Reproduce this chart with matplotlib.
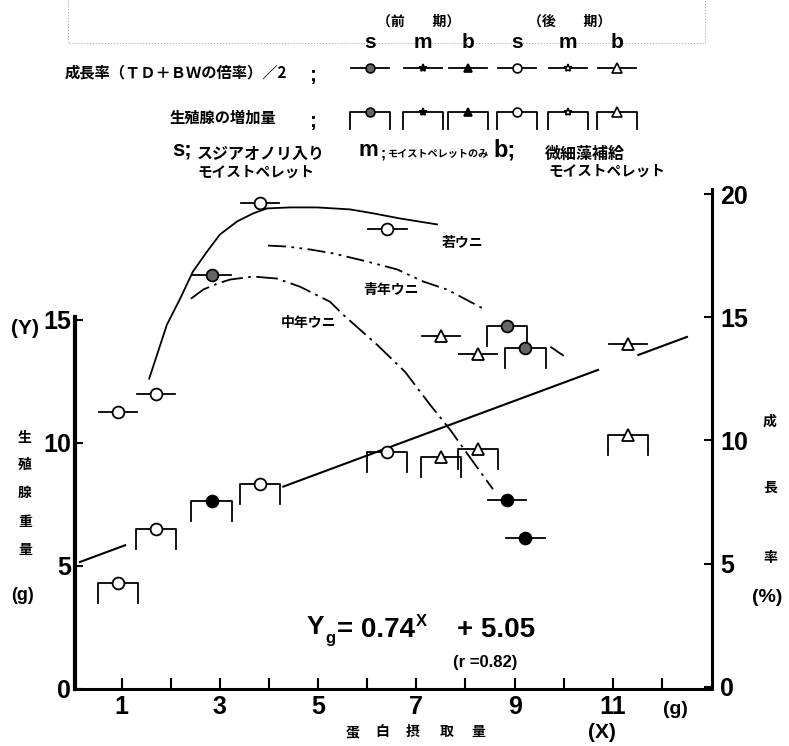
import numpy as np
import matplotlib.pyplot as plt

plt.rcParams['font.family'] = ['Liberation Sans', 'Noto Sans CJK JP', 'DejaVu Sans']
JP = ['Noto Sans CJK JP', 'DejaVu Sans']

W, H = 789, 746

# protein intake (X, g) of each lot
intake = [0.92, 1.70, 2.83, 3.82, 6.41, 7.50, 8.26, 8.84, 9.22, 11.31]
# gonad weight increase (Y, g) -- left axis
gonad_g = [4.31, 6.50, 7.64, 8.33, 9.63, 9.43, 9.76, 14.76, 13.86, 10.33]
gonad_kind = ['o', 'o', 'f', 'o', 'o', 't', 't', 'd', 'd', 't']
# growth rate (%) -- right axis
growth_pct = [11.14, 11.88, 16.73, 19.63, 18.61, 14.24, 13.51, 7.59, 6.04, 13.92]
growth_kind = ['o', 'o', 'd', 'o', 'o', 't', 't', 'f', 'f', 't']

# regression Yg = 0.74 X + 5.05 and the parts of it that are drawn
slope, intercept = 0.74, 5.05
reg_spans = [(0.15, 1.07), (4.29, 10.7), (11.52, 12.51)]

# hand drawn trend curves (growth rate, %)
young_x = [1.56, 1.72, 1.92, 2.19, 2.45, 2.74, 3.00, 3.35, 3.68, 3.96, 4.43, 4.98, 5.65, 6.12, 6.67, 7.42]
young_y = [12.51, 13.48, 14.70, 15.76, 16.86, 17.68, 18.37, 18.90, 19.23, 19.43, 19.47, 19.47, 19.39, 19.23, 19.02, 18.78]
adult_x = [3.98, 4.37, 4.84, 5.31, 6.00, 6.61, 7.14, 7.63, 8.36, np.nan, 9.73, 10.0]
adult_y = [17.92, 17.88, 17.76, 17.60, 17.27, 16.95, 16.46, 16.13, 15.36, np.nan, 13.81, 13.44]
middle_x = [2.41, 2.66, 2.94, 3.21, 3.68, 4.16, 4.63, 5.24, 5.51, 6.20, 6.77, 7.28, 7.69, 8.16, 8.56]
middle_y = [15.76, 16.13, 16.37, 16.54, 16.66, 16.58, 16.25, 15.64, 15.11, 13.89, 12.79, 11.45, 10.43, 9.12, 8.02]

styles = {
    'o': dict(marker='o', mfc='white', ms=8.5),
    'd': dict(marker='o', mfc='#666666', ms=8.5),
    'f': dict(marker='o', mfc='black', ms=8.5),
    't': dict(marker='^', mfc='white', ms=9),
    'S': dict(marker='*', mfc='black', ms=8),
    's': dict(marker='*', mfc='white', ms=8),
    'T': dict(marker='^', mfc='black', ms=7),
}


def px(x, y):
    return x / W, 1 - y / H


def ftext(x, y, s, **kw):
    kw.setdefault('ha', 'center')
    kw.setdefault('va', 'center')
    fig.text(*px(x, y), s, **kw)


fig = plt.figure(figsize=(W / 100, H / 100), dpi=100)
ax = fig.add_axes([75 / W, 1 - 689 / H, (712 - 75) / W, (689 - 187) / H])
ax2 = ax.twinx()
ax.set_xlim(0.05, 13.02)
ax.set_ylim(0, 20.4)
ax2.set_ylim(-0.1, 20.3)

for a in (ax, ax2):
    a.spines['top'].set_visible(False)
    a.patch.set_visible(False)
ax.spines['right'].set_visible(False)
ax2.spines['left'].set_visible(False)
ax2.spines['bottom'].set_visible(False)
ax.spines['left'].set_linewidth(3)
ax.spines['left'].set_bounds(0, 15.1)
ax.spines['bottom'].set_linewidth(2.2)
ax2.spines['right'].set_linewidth(2.2)
ax2.spines['right'].set_bounds(-0.1, 20.2)

ax.set_yticks([0, 5, 10, 15])
ax.tick_params(axis='y', direction='in', length=6, width=1.5, labelsize=18, pad=3)
ax.set_xticks(range(1, 13))
ax.set_xticklabels([str(i) if i % 2 else '' for i in range(1, 13)])
ax.tick_params(axis='x', direction='in', length=8, width=1.5, labelsize=18, pad=4)
ax2.set_yticks([0, 5, 10, 15, 20])
ax2.tick_params(axis='y', direction='in', length=6, width=1.5, labelsize=18, pad=6)
for lab in ax.get_xticklabels() + ax.get_yticklabels() + ax2.get_yticklabels():
    lab.set_fontweight('bold')

# regression line
for x0, x1 in reg_spans:
    ax.plot([x0, x1], [slope * x0 + intercept, slope * x1 + intercept], color='black', lw=1.5, zorder=2)

# curves
ax2.plot(young_x, young_y, color='black', lw=1.3)
ax2.plot(adult_x, adult_y, color='black', lw=1.3, ls=(0, (10, 3, 1.5, 3, 1.5, 3)))
ax2.plot(middle_x, middle_y, color='black', lw=1.3, ls=(0, (12, 3, 1.5, 3)))

bw, bd, hw = 0.41, 0.81, 0.39
for x, y, k in zip(intake, gonad_g, gonad_kind):
    ax.plot([x - bw, x - bw, x + bw, x + bw], [y - bd, y, y, y - bd], color='black', lw=1.3, zorder=3)
    ax.plot([x], [y], color='black', mec='black', mew=1.3, zorder=4, ls='none', **styles[k])
for x, y, k in zip(intake, growth_pct, growth_kind):
    ax2.plot([x - hw, x + hw], [y, y], color='black', lw=1.3, zorder=3)
    ax2.plot([x], [y], color='black', mec='black', mew=1.3, zorder=4, ls='none', **styles[k])

# legend block (pixel coordinates)
lg = fig.add_axes([0, 0, 1, 1])
lg.set_xlim(0, W)
lg.set_ylim(H, 0)
lg.axis('off')
lg.plot([68, 68, 705, 705], [0, 43, 43, 0], ls=':', color='#aaaaaa', lw=0.8)

leg_x = [370, 423, 468, 517, 568, 617]
leg_kind = ['d', 'S', 'T', 'o', 's', 't']
for lx, lab in zip(leg_x, ['s', 'm', 'b', 's', 'm', 'b']):
    ftext(lx, 42, lab, fontsize=15, fontweight='bold')
for lx, k in zip(leg_x, leg_kind):
    st = dict(styles[k])
    st['ms'] = st['ms'] * 0.75
    lg.plot([lx - 19, lx + 19], [68, 68], color='black', lw=1.3)
    lg.plot([lx], [68], ls='none', mec='black', mew=1.2, **st)
    lg.plot([lx - 20, lx - 20, lx + 20, lx + 20], [129, 112, 112, 129], color='black', lw=1.3)
    lg.plot([lx], [112], ls='none', mec='black', mew=1.2, **st)

ftext(419, 22, '（前　　期）', fontsize=10, family=JP, fontweight='bold')
ftext(570, 22, '（後　　期）', fontsize=10, family=JP, fontweight='bold')
ftext(65, 72, '成長率（ＴＤ＋ＢＷの倍率）／2', fontsize=11, ha='left', family=JP, fontweight='bold')
ftext(313, 76, ';', fontsize=15, fontweight='bold')
ftext(170, 118, '生殖腺の増加量', fontsize=11, ha='left', family=JP, fontweight='bold')
ftext(313, 121, ';', fontsize=15, fontweight='bold')
ftext(172, 150, 's;', fontsize=16, ha='left', fontweight='bold')
ftext(197, 154, 'スジアオノリ入り', fontsize=11.5, ha='left', family=JP, fontweight='bold')
ftext(197, 172, 'モイストペレット', fontsize=10.5, ha='left', family=JP, fontweight='bold')
ftext(358, 150, 'm', fontsize=16, ha='left', fontweight='bold')
ftext(381, 154, ';', fontsize=11, ha='left', fontweight='bold')
ftext(388, 154, 'モイストペレットのみ', fontsize=7.3, ha='left', family=JP, fontweight='bold')
ftext(493, 150, 'b;', fontsize=17, ha='left', fontweight='bold')
ftext(545, 154, '微細藻補給', fontsize=11.5, ha='left', family=JP, fontweight='bold')
ftext(548, 171, 'モイストペレット', fontsize=10.5, ha='left', family=JP, fontweight='bold')

# curve names
ftext(442, 243, '若ウニ', fontsize=10, ha='left', family=JP, fontweight='bold')
ftext(391, 290, '青年ウニ', fontsize=10, family=JP, fontweight='bold')
ftext(309, 323, '中年ウニ', fontsize=10, family=JP, fontweight='bold')

# axis titles
ftext(25, 328, '(Y)', fontsize=15, fontweight='bold')
for ch, yy in zip('生殖腺重量', [438, 465, 493, 522, 550]):
    ftext(25, yy, ch, fontsize=10, family=JP, fontweight='bold')
ftext(22, 595, '(g)', fontsize=13, fontweight='bold')
for ch, yy in zip('成長率', [422, 488, 558]):
    ftext(770, yy, ch, fontsize=10, family=JP, fontweight='bold')
ftext(767, 597, '(%)', fontsize=14, fontweight='bold')
ftext(675, 710, '(g)', fontsize=14, fontweight='bold')
ftext(602, 732, '(X)', fontsize=15, fontweight='bold')
for ch, xx in zip('蛋白摂取量', [353, 382, 413, 447, 478]):
    ftext(xx, 732, ch, fontsize=10, family=JP, fontweight='bold')

# regression equation
ftext(307, 627, 'Y', fontsize=19, ha='left', fontweight='bold')
ftext(325, 639, 'g', fontsize=12, ha='left', fontweight='bold')
ftext(337, 630, '= 0.74', fontsize=20, ha='left', fontweight='bold')
ftext(416, 621, 'X', fontsize=12, ha='left', fontweight='bold')
ftext(457, 630, '+ 5.05', fontsize=20, ha='left', fontweight='bold')
ftext(453, 663, '(r =0.82)', fontsize=12, ha='left', fontweight='bold')

fig.savefig('out.png', dpi=100)
